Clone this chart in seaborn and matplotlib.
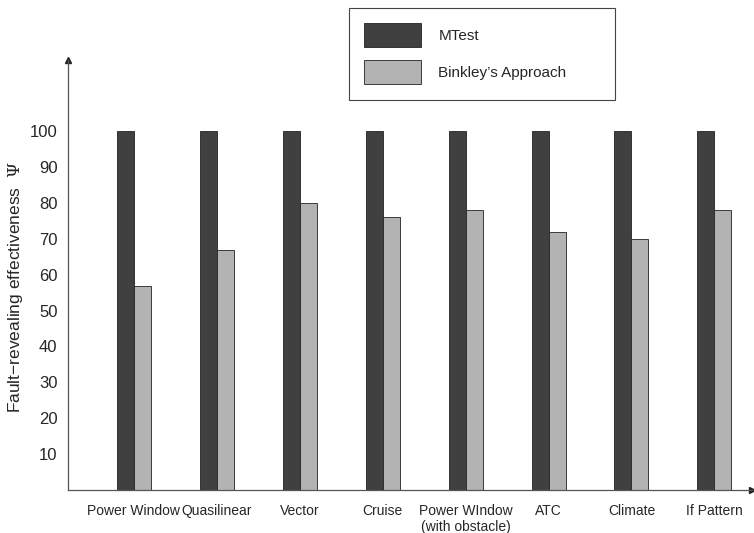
import numpy as np
import pandas as pd
import matplotlib
matplotlib.use('Agg')
import matplotlib.pyplot as plt
import seaborn as sns

# data
models = ['Power Window', 'Quasilinear', 'Vector', 'Cruise',
          'Power WIndow\n(with obstacle)', 'ATC', 'Climate', 'If Pattern']
mtest = [100, 100, 100, 100, 100, 100, 100, 100]
binkley = [57, 67, 80, 76, 78, 72, 70, 78]
yticks = [10, 20, 30, 40, 50, 60, 70, 80, 90, 100]

df = pd.DataFrame({'Model': models * 2,
                   'Score': mtest + binkley,
                   'Method': ['MTest'] * len(models) + ["Binkley’s Approach"] * len(models)})

sns.set_style('white')
plt.rcParams['font.family'] = ['Liberation Sans', 'DejaVu Sans']
plt.rcParams['font.size'] = 10
plt.rcParams['mathtext.fontset'] = 'dejavuserif'

fig = plt.figure(figsize=(7.54, 5.33), dpi=100)
ax = fig.add_axes([0.090, 0.081, 0.907, 0.807])

sns.barplot(data=df, x='Model', y='Score', hue='Method', ax=ax,
            palette=['#404040', '#b3b3b3'], width=0.41, gap=0,
            edgecolor='#222222', linewidth=0.6, legend=True)

ax.set_xlim(-0.795, 7.45)
ax.set_ylim(0, 120)
ax.set_yticks(yticks)
ax.tick_params(axis='y', direction='out', length=4.5, width=0.8, color='#555555', pad=3, labelsize=12)
ax.tick_params(axis='x', length=0, pad=10, labelsize=10)
ax.set_xlabel('')
ax.set_ylabel('Fault−revealing effectiveness  $\\Psi$', fontsize=12.5)
ax.yaxis.set_label_coords(-0.062, 0.472)

for s in ['top', 'right']:
    ax.spines[s].set_visible(False)
for s in ['left', 'bottom']:
    ax.spines[s].set_color('#555555')
    ax.spines[s].set_linewidth(0.9)

# arrow heads at the axis ends
ax.plot(0, 1, marker='^', color='#222222', markersize=5, transform=ax.transAxes, clip_on=False)
ax.plot(1, 0, marker='>', color='#222222', markersize=4, transform=ax.transAxes, clip_on=False)

handles, labels = ax.get_legend_handles_labels()
ax.get_legend().remove()
leg = fig.legend(handles, labels, loc='upper left',
                 bbox_to_anchor=(0.463, 0.809, 0.353, 0.176), mode='expand',
                 fancybox=False, edgecolor='#444444', framealpha=1,
                 handlelength=3.7, handleheight=2.05, handletextpad=1.15,
                 labelspacing=0.85, borderpad=1.0, borderaxespad=0, fontsize=11)
leg.get_frame().set_linewidth(0.8)

fig.savefig('out.png', dpi=100)
